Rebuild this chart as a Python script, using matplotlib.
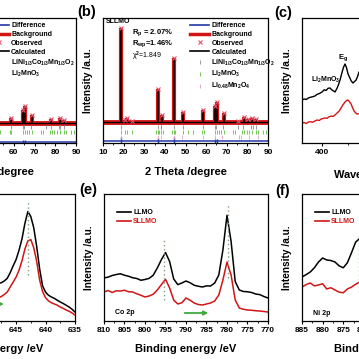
import matplotlib
matplotlib.use('Agg')
import matplotlib.pyplot as plt
from matplotlib.lines import Line2D
from matplotlib.ticker import MultipleLocator

plt.rcParams['font.family'] = 'Liberation Sans'
plt.rcParams['font.weight'] = 'bold'
plt.rcParams['axes.labelweight'] = 'bold'
plt.rcParams['mathtext.fontset'] = 'custom'
plt.rcParams['mathtext.rm'] = 'Liberation Sans:bold'
plt.rcParams['mathtext.it'] = 'Liberation Sans:bold'
plt.rcParams['mathtext.bf'] = 'Liberation Sans:bold'
plt.rcParams['mathtext.default'] = 'rm'

# ---- (a) XRD, LLMO (only the high angle part is visible)
a_base = 18.6
a_peak_pos = [58.6, 64.4, 65.4, 68.7, 78.0, 82.3, 84.0]
a_peak_int = [22.5, 28.7, 31.8, 24.8, 21.7, 22.5, 21.0]
a_diff_base = 4.0
a_diff_pos = [64.4, 65.4]
a_diff_amp = [1.2, 1.5]

# ---- (b) XRD, SLLMO
b_base = 19.2
b_peak_pos = [18.7, 20.8, 21.8, 24.3, 36.8, 38.4, 44.6, 48.6, 58.6, 64.5, 65.5, 68.8, 75.5, 78.3, 80.5, 82.3, 84.2]
b_peak_int = [92.2, 21.0, 22.5, 20.0, 45.0, 24.8, 69.0, 27.0, 28.7, 31.8, 34.9, 26.4, 20.0, 23.3, 21.7, 22.5, 21.7]
b_diff_base = 4.6
b_diff_pos = [18.7, 36.8, 44.6, 64.5, 65.5]
b_diff_amp = [3.5, 2.5, 3.0, 1.5, 1.5]

# Bragg positions of the phases
ph1_pos = [18.7, 36.7, 37.9, 38.3, 44.4, 48.6, 58.6, 64.3, 65.0, 68.2, 75.4, 78.0, 81.9, 82.5, 84.2]
ph2_pos = [18.7, 20.8, 21.7, 24.3, 35.6, 36.8, 37.3, 38.2, 39.2, 43.6, 44.6, 45.1, 48.7, 51.0, 53.4,
           58.2, 58.8, 64.4, 65.3, 66.3, 67.2, 68.8, 73.2, 74.2, 77.3, 78.6, 79.6, 80.8, 82.3, 84.0,
           85.3, 87.5, 88.9]
ph3_pos = [18.8, 36.5, 38.2, 44.4, 48.4, 58.4, 64.2, 67.5, 75.7, 76.8, 80.8, 85.0]

# ---- (c) Raman
c_wn_llmo = [325, 333, 341, 349, 357, 365, 374, 382, 390, 401, 409, 416, 424, 431, 438, 445, 450, 457,
             463, 469, 476, 482, 488, 494, 499, 505, 511, 518, 524, 530, 536, 541, 548]
c_int_llmo = [34.4, 35.2, 34.8, 36.0, 36.6, 37.0, 37.6, 38.9, 39.5, 40.8, 42.6, 42.0, 43.8, 44.0, 42.5,
              41.6, 40.8, 43.5, 46.5, 50.4, 56.0, 60.5, 63.2, 60.0, 55.5, 52.6, 49.8, 48.0, 49.2, 50.4,
              53.5, 56.8, 58.0]
c_wn_sllmo = [325, 333, 341, 349, 357, 365, 374, 382, 390, 398, 405, 412, 420, 428, 436, 443, 450, 458,
              466, 473, 480, 488, 494, 499, 505, 511, 516, 522, 528, 533, 541, 548]
c_int_sllmo = [16.0, 16.4, 15.6, 16.8, 17.0, 16.6, 17.6, 18.4, 18.0, 19.2, 19.6, 20.0, 19.8, 21.0, 21.6,
               21.2, 22.4, 24.0, 25.6, 28.0, 30.5, 32.8, 34.0, 34.4, 33.0, 31.2, 28.5, 25.6, 24.2, 23.2,
               23.4, 23.0]

# ---- (d) Mn 2p
d_be = [648, 647.5, 647, 646.5, 646, 645.5, 645, 644.5, 644, 643.5, 643, 642.5, 642, 641.5, 641,
        640.5, 640, 639.5, 639, 638.5, 638, 637.5, 637, 636.5, 636, 635.5, 635]
d_llmo = [28.5, 29.0, 30.4, 32.5, 37.0, 42.5, 47.5, 55.0, 64.0, 76.5, 86.0, 82.0, 73.0, 58.0, 40.0,
          26.5, 21.5, 19.0, 17.6, 16.5, 15.0, 13.6, 12.4, 11.0, 9.6, 7.8, 5.6]
d_sllmo = [17.0, 18.0, 19.6, 21.6, 25.6, 29.5, 33.5, 39.0, 46.5, 56.0, 62.5, 63.5, 57.0, 46.0, 31.2,
           22.0, 17.0, 14.5, 13.0, 12.0, 11.0, 9.6, 8.5, 7.2, 6.2, 4.8, 3.2]

# ---- (e) Co 2p
e_be = [810, 809, 808, 807, 806, 805, 804, 803, 802, 801, 800, 799, 798, 797, 796, 795, 794, 793, 792,
        791, 790, 789, 788, 787, 786, 785, 784, 783, 782, 781, 780, 779, 778, 777, 776, 775, 774, 773,
        772, 771, 770]
e_llmo = [32.8, 33.5, 34.8, 35.6, 36.2, 35.0, 34.2, 33.0, 32.4, 31.0, 31.6, 32.5, 35.0, 40.8, 47.5,
          53.2, 46.0, 32.0, 27.5, 28.8, 30.4, 29.0, 27.0, 26.2, 25.6, 26.5, 26.4, 28.8, 35.2, 55.2,
          83.0, 62.0, 30.0, 23.2, 22.0, 21.8, 21.2, 20.0, 19.5, 18.0, 16.8]
e_sllmo = [21.6, 22.8, 21.2, 22.6, 22.4, 23.0, 21.8, 21.6, 20.2, 19.0, 17.6, 18.4, 19.8, 23.2, 27.5,
           31.8, 24.8, 15.2, 12.0, 13.0, 16.8, 15.0, 12.8, 11.6, 11.2, 12.0, 12.8, 14.4, 19.2, 31.2,
           45.6, 35.2, 15.2, 8.8, 7.8, 7.2, 7.0, 6.6, 6.4, 6.0, 5.6]

# ---- (f) Ni 2p (only the high energy part is visible)
f_be = [885, 884, 883, 882, 881, 880, 879, 878, 877, 876, 875, 874, 873, 872, 871, 870]
f_llmo = [33.6, 35.5, 37.6, 41.0, 45.6, 48.8, 47.2, 46.8, 45.6, 42.5, 41.0, 45.0, 53.0, 61.5, 64.5, 62.0]
f_sllmo = [25.6, 27.5, 28.8, 26.5, 27.2, 28.2, 24.0, 25.0, 23.2, 21.5, 21.0, 24.0, 25.5, 27.8, 29.6, 29.0]

blue = '#2338a8'
red = '#d11515'
obs = '#e8506a'
green = '#3faa3a'
ph_colors = ['#8a8a8a', '#5cbf3a', '#e59ac6']

W = H = 359.0
fig = plt.figure(figsize=(W / 100, H / 100), dpi=100)


def box(left, top, right, bottom):
    return fig.add_axes([left / W, 1 - bottom / H, (right - left) / W, (bottom - top) / H])


def style(ax, major, minor):
    for s in ax.spines.values():
        s.set_linewidth(0.9)
    ax.set_yticks([])
    ax.xaxis.set_major_locator(MultipleLocator(major))
    ax.xaxis.set_minor_locator(MultipleLocator(minor))
    ax.tick_params(axis='x', which='major', direction='out', length=2.5, width=0.8, labelsize=6, pad=2)
    ax.tick_params(axis='x', which='minor', direction='out', length=1.5, width=0.6)
    ax.set_ylabel('Intensity /a.u.', fontsize=7.3)
    ax.yaxis.set_label_coords(-0.06, 0.5)


def xrd(ax, base, pos, inten, dbase, dpos, damp, phases):
    ax.plot([10, 90], [base, base], color=red, lw=3.5, solid_capstyle='butt')
    ax.vlines(pos, base, inten, color=red, lw=3)
    ax.plot([10, 90], [base, base], color='k', lw=0.9)
    ax.vlines(pos, base, inten, color='k', lw=1.2)
    ax.plot(pos, inten, 'x', color=obs, ms=2.5, mew=0.8)
    ax.plot([10, 90], [dbase, dbase], color=blue, lw=1.1)
    ax.vlines(dpos, [dbase - a for a in damp], [dbase + a for a in damp], color=blue, lw=1.0)
    rows = [15.5, 11.6, 7.8]
    for (p, c), r in zip(phases, rows):
        ax.plot(p, [r] * len(p), '|', color=c, ms=3, mew=0.6)
    ax.set_xlim(10, 90)
    ax.set_ylim(3.1, 100)
    style(ax, 10, 5)
    ax.set_xlabel('2 Theta /degree', fontsize=8)
    ax.xaxis.set_label_coords(0.5, -0.195)


def xrd_legend(ax, x, names, colors):
    handles = [Line2D([], [], color=blue, lw=1.2),
               Line2D([], [], color=red, lw=2.5),
               Line2D([], [], ls='none', marker='x', color=obs, ms=2.5, mew=0.8),
               Line2D([], [], color='k', lw=1.2)]
    handles += [Line2D([], [], ls='none', marker='|', color=c, ms=3, mew=0.6) for c in colors]
    labels = ['Difference', 'Background', 'Observed', 'Calculated'] + names
    ax.legend(handles, labels, loc='upper left', bbox_to_anchor=(x, 0.965), frameon=False, fontsize=5,
              handlelength=2.8, handletextpad=0.3, labelspacing=0.25, borderpad=0, borderaxespad=0,
              numpoints=1)


# top row
ax_a = box(-90, 18, 76, 143)
xrd(ax_a, a_base, a_peak_pos, a_peak_int, a_diff_base, a_diff_pos, a_diff_amp,
    [(ph1_pos, ph_colors[0]), (ph2_pos, ph_colors[1])])
xrd_legend(ax_a, 0.48, ['LiNi$_{1/3}$Co$_{1/3}$Mn$_{1/3}$O$_2$', 'Li$_2$MnO$_3$'], ph_colors[:2])

ax_b = box(103, 18, 268, 143)
xrd(ax_b, b_base, b_peak_pos, b_peak_int, b_diff_base, b_diff_pos, b_diff_amp,
    [(ph1_pos, ph_colors[0]), (ph2_pos, ph_colors[1]), (ph3_pos, ph_colors[2])])
xrd_legend(ax_b, 0.527, ['LiNi$_{1/3}$Co$_{1/3}$Mn$_{1/3}$O$_2$', 'Li$_2$MnO$_3$', 'Li$_{0.48}$Mn$_2$O$_4$'],
           ph_colors)
ax_b.text(0.018, 0.968, 'SLLMO', transform=ax_b.transAxes, fontsize=5, va='center')
ax_b.text(0.176, 0.88, 'R$_p$ = 2.07%', transform=ax_b.transAxes, fontsize=5.5, va='center')
ax_b.text(0.176, 0.792, 'R$_{wp}$=1.46%', transform=ax_b.transAxes, fontsize=5.5, va='center')
ax_b.text(0.176, 0.696, 'χ$^2$=1.849', transform=ax_b.transAxes, fontsize=5, va='center',
          fontweight='normal')

ax_c = box(302, 18, 467, 143)
ax_c.plot(c_wn_llmo, c_int_llmo, color='k', lw=1.0)
ax_c.plot(c_wn_sllmo, c_int_sllmo, color=red, lw=1.0)
ax_c.text(416, 50.4, 'Li$_2$MnO$_3$', fontsize=5, ha='center', va='center')
ax_c.text(480, 68, 'E$_g$', fontsize=5.5, ha='center', va='center')
ax_c.set_xlim(325, 950)
ax_c.set_ylim(0, 100)
style(ax_c, 200, 100)
ax_c.set_xlabel('Wavenumber /cm$^{-1}$', fontsize=8)
ax_c.xaxis.set_label_coords(0.5, -0.195)

# bottom row
def xps(ax, be, llmo, sllmo, lo, hi):
    ax.plot(be, llmo, color='k', lw=1.1)
    ax.plot(be, sllmo, color=red, lw=1.1)
    ax.set_xlim(hi, lo)
    ax.set_ylim(-1.6, 100)
    style(ax, 5, 2.5)
    ax.set_xlabel('Binding energy /eV', fontsize=8)
    ax.xaxis.set_label_coords(0.5, -0.185)


def xps_legend(ax):
    handles = [Line2D([], [], color='k', lw=1.2), Line2D([], [], color=red, lw=1.2)]
    leg = ax.legend(handles, ['LLMO', 'SLLMO'], loc='upper left', bbox_to_anchor=(0.08, 0.88),
                    frameon=False, fontsize=5, handlelength=2.0, handletextpad=0.3, labelspacing=0.25,
                    borderpad=0, borderaxespad=0)
    leg.get_texts()[1].set_color(red)


ax_d = box(-90, 194, 75, 321)
xps(ax_d, d_be, d_llmo, d_sllmo, 635, 663)
ax_d.vlines(643, 35, 95, colors='#7fa07f', linestyles=(0, (1, 2)), lw=1.0)
ax_d.annotate('', xy=(646.6, 12), xytext=(651.5, 12),
              arrowprops=dict(arrowstyle='-|>', color=green, lw=1.3, mutation_scale=6))

ax_e = box(104, 194, 268, 321)
xps(ax_e, e_be, e_llmo, e_sllmo, 770, 810)
ax_e.vlines([795.3, 779.8], [15, 33], [65, 93], colors='#7fa07f', linestyles=(0, (1, 2)), lw=1.0)
ax_e.annotate('', xy=(783.9, 4.8), xytext=(791, 4.8),
              arrowprops=dict(arrowstyle='-|>', color=green, lw=1.3, mutation_scale=6))
ax_e.text(0.067, 0.064, 'Co 2p', transform=ax_e.transAxes, fontsize=5, va='center')
xps_legend(ax_e)

ax_f = box(302, 194, 467, 321)
xps(ax_f, f_be, f_llmo, f_sllmo, 845, 885)
ax_f.vlines(871.3, 21.6, 67.2, colors='#7fa07f', linestyles=(0, (1, 2)), lw=1.0)
ax_f.text(0.067, 0.056, 'Ni 2p', transform=ax_f.transAxes, fontsize=5, va='center')
xps_legend(ax_f)

for lab, x, y in [('(b)', 87, 12), ('(c)', 283, 13), ('(e)', 88, 190), ('(f)', 283, 191)]:
    fig.text(x / W, 1 - y / H, lab, fontsize=10.5, ha='center', va='center')

fig.savefig('out.png', dpi=100)
